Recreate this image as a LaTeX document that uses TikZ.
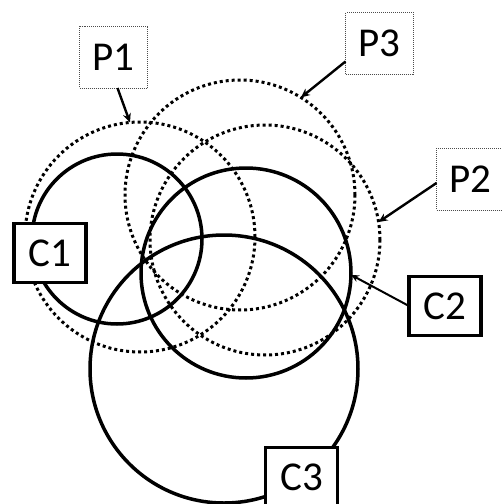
\documentclass[tikz,border=0pt]{standalone}
\usepackage{fontspec}
\setmainfont{Carlito}
\usetikzlibrary{arrows.meta}
\begin{document}
\begin{tikzpicture}[x=1pt,y=-1pt,
 solidc/.style={circle,draw,line width=3.5pt,inner sep=0pt,outer sep=0pt},
 dotc/.style={circle,draw,line width=3pt,dash pattern=on 3pt off 3pt,inner sep=0pt,outer sep=0pt},
 cbox/.style={draw,fill=white,line width=3.5pt,minimum width=72pt,minimum height=59pt,inner sep=0pt,outer sep=0pt,font=\fontsize{41}{48}\selectfont},
 pbox/.style={draw=black!70,fill=white,line width=1pt,dash pattern=on 1pt off 1pt,minimum width=68pt,minimum height=62pt,inner sep=0pt,outer sep=0pt,font=\fontsize{41}{48}\selectfont},
 parrow/.style={-{Stealth[length=9pt,width=8pt]},line width=2.4pt},
 carrow/.style={-{Stealth[length=8pt,width=7pt]},line width=2pt}]
\useasboundingbox (0,0) rectangle (502,504);
% circles
\node[dotc,minimum size=230pt] (P1c) at (140,237) {};
\node[dotc,minimum size=230pt] (P3c) at (240,195) {};
\node[dotc,minimum size=230pt] (P2c) at (265,240) {};
\node[solidc,minimum size=170pt] (C1c) at (117,239) {};
\node[solidc,minimum size=210pt] (C2c) at (246,273) {};
\node[solidc,minimum size=268pt] (C3c) at (224,369) {};
% boxes
\node[pbox] (P1) at (113.5,57) {P1};
\node[pbox] (P3) at (379.5,43.5) {P3};
\node[pbox] (P2) at (470.5,179) {P2};
\node[cbox] (C1) at (50,253) {C1};
\node[cbox] (C2) at (445,306) {C2};
\node[cbox] (C3) at (301.5,477) {C3};
% arrows
\draw[parrow] ([xshift=4pt]P1.south) -- (P1c.95);
\draw[parrow] ([yshift=-18pt]P3.west) -- (P3c.58);
\draw[parrow] ([yshift=-4pt]P2.west) -- (P2c.9);
\draw[carrow] (C2.west) -- (C2c.-1);
\end{tikzpicture}
\end{document}
